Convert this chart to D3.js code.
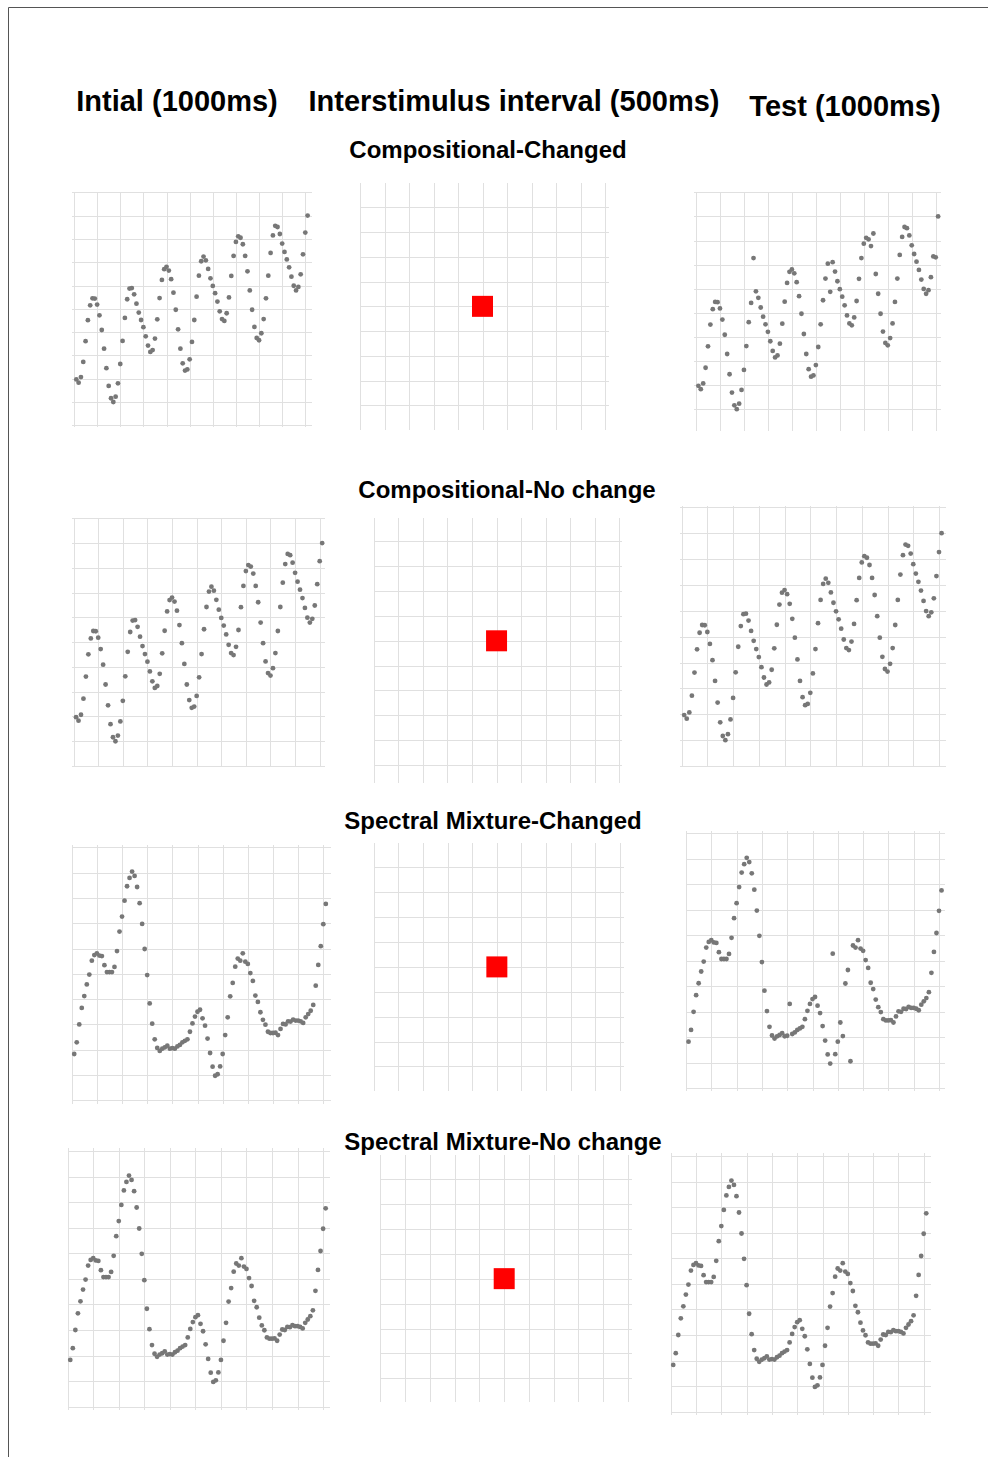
<!DOCTYPE html>
<html>
<head>
<meta charset="utf-8">
<script src="https://cdn.jsdelivr.net/npm/d3@7"></script>
<style>
  html, body { margin: 0; padding: 0; background: #fff; }
  svg { display: block; }
  text { font-family: "Liberation Sans", Arial, sans-serif; font-weight: bold; fill: #000; }
</style>
</head>
<body>
<div id="chart"></div>
<script>
// ---------------- data ----------------
const columnTitles = ["Intial (1000ms)", "Interstimulus interval (500ms)", "Test (1000ms)"];
const conditionTitles = ["Compositional-Changed", "Compositional-No change", "Spectral Mixture-Changed", "Spectral Mixture-No change"];

const xTicks = [0, 10, 20, 30, 40, 50, 60, 70, 80, 90, 100];
const yTicks = [0, 1, 2, 3, 4, 5, 6, 7, 8, 9, 10];

// compositional kernel sample (initial stimulus), x = 1..101
const compositionalInitial = [
  1.97, 1.83, 2.07, 2.72, 3.61, 4.51, 5.15, 5.45, 5.44, 5.18,
  4.72, 4.09, 3.29, 2.45, 1.69, 1.16, 1.00, 1.23, 1.80, 2.63,
  3.62, 4.61, 5.41, 5.87, 5.89, 5.62, 5.22, 4.84, 4.52, 4.21,
  3.82, 3.42, 3.15, 3.23, 3.72, 4.55, 5.46, 6.24, 6.70, 6.80,
  6.64, 6.27, 5.69, 4.96, 4.12, 3.29, 2.66, 2.35, 2.40, 2.83,
  3.58, 4.52, 5.52, 6.42, 7.04, 7.24, 7.08, 6.71, 6.31, 5.98,
  5.67, 5.31, 4.89, 4.56, 4.48, 4.81, 5.49, 6.41, 7.27, 7.87,
  8.11, 8.05, 7.77, 7.27, 6.61, 5.79, 4.96, 4.22, 3.75, 3.65,
  3.95, 4.56, 5.45, 6.42, 7.40, 8.15, 8.56, 8.51, 8.21, 7.80,
  7.44, 7.12, 6.78, 6.38, 5.99, 5.79, 5.94, 6.48, 7.34, 8.27,
  9.00
];
// compositional test with changed points
const compositionalChangedTest = [
  1.97, 1.83, 2.07, 2.72, 3.61, 4.51, 5.15, 5.45, 5.44, 5.18,
  4.72, 4.09, 3.29, 2.45, 1.69, 1.16, 1.00, 1.23, 1.80, 2.63,
  3.62, 4.61, 5.41, 7.27, 5.89, 5.62, 5.22, 4.84, 4.52, 4.21,
  3.82, 3.42, 3.15, 3.23, 3.72, 4.55, 5.46, 6.24, 6.70, 6.80,
  6.64, 6.27, 5.69, 4.96, 4.12, 3.29, 2.66, 2.35, 2.40, 2.83,
  3.58, 4.52, 5.52, 6.42, 7.04, 5.87, 7.10, 6.71, 6.31, 5.98,
  5.67, 5.31, 4.89, 4.56, 4.48, 4.81, 5.49, 6.41, 7.27, 7.87,
  8.11, 8.05, 7.77, 8.29, 6.61, 5.79, 4.96, 4.22, 3.75, 3.65,
  3.95, 4.56, 5.45, 6.42, 7.40, 8.15, 8.56, 8.51, 8.21, 7.80,
  7.44, 7.12, 6.78, 6.38, 5.99, 5.79, 5.94, 6.48, 7.34, 7.30,
  9.00
];
// spectral mixture kernel sample (initial stimulus), x = 1..101
const spectralInitial = [
  1.83, 2.29, 3.00, 3.65, 4.12, 4.58, 4.97, 5.52, 5.74, 5.81,
  5.72, 5.70, 5.34, 5.07, 5.07, 5.07, 5.27, 5.90, 6.67, 7.26,
  7.89, 8.46, 8.79, 9.04, 8.87, 8.43, 7.79, 6.97, 5.98, 4.95,
  3.83, 3.03, 2.41, 2.07, 1.95, 2.04, 2.09, 2.16, 2.04, 2.06,
  2.04, 2.13, 2.19, 2.29, 2.35, 2.41, 2.71, 3.04, 3.31, 3.50,
  3.58, 3.24, 2.95, 2.44, 1.87, 1.33, 0.97, 1.03, 1.34, 1.83,
  2.58, 3.28, 4.11, 4.64, 5.28, 5.60, 5.52, 5.81, 5.48, 5.39,
  5.03, 4.72, 4.14, 3.89, 3.48, 3.18, 2.99, 2.71, 2.66, 2.66,
  2.67, 2.58, 2.82, 3.02, 3.00, 3.12, 3.11, 3.19, 3.15, 3.15,
  3.12, 3.06, 3.28, 3.41, 3.54, 3.77, 4.53, 5.35, 6.09, 6.96,
  7.76
];
// spectral mixture test with changed points
const spectralChangedTest = [
  1.83, 2.29, 3.00, 3.65, 4.12, 4.58, 4.97, 5.52, 5.74, 5.81,
  5.72, 5.70, 5.34, 5.07, 5.07, 5.07, 5.27, 5.90, 6.67, 7.26,
  7.89, 8.46, 8.79, 9.04, 8.87, 8.43, 7.79, 6.97, 5.98, 4.95,
  3.83, 3.03, 2.41, 2.07, 1.95, 2.04, 2.09, 2.16, 2.04, 2.06,
  3.31, 2.13, 2.19, 2.29, 2.35, 2.41, 2.71, 3.04, 3.31, 3.50,
  3.58, 3.24, 2.95, 2.44, 1.87, 1.33, 0.97, 5.28, 1.34, 1.83,
  2.58, 2.05, 4.11, 4.64, 1.06, 5.60, 5.52, 5.81, 5.48, 5.39,
  5.03, 4.72, 4.14, 3.89, 3.48, 3.18, 2.99, 2.71, 2.66, 2.66,
  2.67, 2.58, 2.82, 3.02, 3.00, 3.12, 3.11, 3.19, 3.15, 3.15,
  3.12, 3.06, 3.28, 3.41, 3.54, 3.77, 4.53, 5.35, 6.09, 6.96,
  7.76
];
// fixation marker during the interstimulus interval (grid centre)
const fixationPoint = [50, 5];

// ---------------- layout (pixels) ----------------
const W = 988, H = 1457;
const svg = d3.select("#chart").append("svg").attr("width", W).attr("height", H);

// frame
svg.append("line").attr("x1", 8.5).attr("x2", W).attr("y1", 7.5).attr("y2", 7.5)
  .attr("stroke", "#555").attr("stroke-width", 1);
svg.append("line").attr("x1", 8.5).attr("x2", 8.5).attr("y1", 7.5).attr("y2", H)
  .attr("stroke", "#555").attr("stroke-width", 1);

// column headers
const headerLayout = [
  { x: 177, y: 111 },
  { x: 514, y: 111 },
  { x: 845, y: 116 }
];
columnTitles.forEach((t, i) => {
  svg.append("text").attr("x", headerLayout[i].x).attr("y", headerLayout[i].y)
    .attr("text-anchor", "middle").style("font-size", "29px").text(t);
});

const subtitleLayout = [
  { x: 488, y: 158 },
  { x: 507, y: 498 },
  { x: 493, y: 829 },
  { x: 503, y: 1150 }
];
conditionTitles.forEach((t, i) => {
  svg.append("text").attr("x", subtitleLayout[i].x).attr("y", subtitleLayout[i].y)
    .attr("text-anchor", "middle").style("font-size", "24px").text(t);
});

// panels: pixel frame of each small chart
const panels = [
  // row 1
  { series: compositionalInitial, x0: 74, x1: 305.3, y0: 425.3, y1: 192.3, l: 71.7, r: 311.7, t: 192, b: 427, inner: false },
  { series: null, x0: 360, x1: 605, y0: 430, y1: 182.7, l: 360, r: 609, t: 183, b: 429.5, inner: true },
  { series: compositionalChangedTest, x0: 696, x1: 935.7, y0: 433.3, y1: 192.3, l: 694, r: 941, t: 192, b: 431, inner: false },
  // row 2
  { series: compositionalInitial, x0: 73.6, x1: 319.7, y0: 766, y1: 518.3, l: 71.7, r: 324.7, t: 517.7, b: 767, inner: false },
  { series: null, x0: 373.8, x1: 619.3, y0: 765, y1: 516.6, l: 373.8, r: 621.8, t: 517.7, b: 783.3, inner: true },
  { series: compositionalInitial, x0: 681.6, x1: 939, y0: 766, y1: 507.3, l: 679.7, r: 945.9, t: 506.3, b: 767, inner: false },
  // row 3
  { series: spectralInitial, x0: 71.7, x1: 323.3, y0: 1100.3, y1: 847.3, l: 71.7, r: 330.7, t: 845, b: 1104, inner: false },
  { series: null, x0: 373.7, x1: 620, y0: 1091.3, y1: 842.5, l: 373.7, r: 623.7, t: 843.3, b: 1090.7, inner: true },
  { series: spectralChangedTest, x0: 686, x1: 939, y0: 1088.3, y1: 833.3, l: 686, r: 945, t: 831, b: 1090.7, inner: false },
  // row 4
  { series: spectralInitial, x0: 67.7, x1: 323.1, y0: 1406.7, y1: 1151, l: 67.7, r: 330, t: 1148.3, b: 1410, inner: false },
  { series: null, x0: 380.4, x1: 628, y0: 1403.3, y1: 1154, l: 380.4, r: 631.5, t: 1155, b: 1402.3, inner: true },
  { series: spectralInitial, x0: 670.7, x1: 923.7, y0: 1411.7, y1: 1156, l: 670.7, r: 930.7, t: 1153.3, b: 1415, inner: false }
];

panels.forEach(p => {
  const x = d3.scaleLinear().domain([0, 100]).range([p.x0, p.x1]);
  const y = d3.scaleLinear().domain([0, 10]).range([p.y0, p.y1]);
  const g = svg.append("g");
  const grid = g.append("g").attr("stroke", "#e0e0e0").attr("stroke-width", 1)
    .attr("shape-rendering", "crispEdges");

  const xs = xTicks.filter(v => x(v) >= p.l - 1 && x(v) <= p.r + 1);
  const ys = yTicks.filter(v => p.inner ? (y(v) > p.t + 2 && y(v) < p.b - 2)
                                        : (y(v) >= p.t - 1.5 && y(v) <= p.b + 1.5));
  grid.selectAll("line.v").data(xs).join("line").attr("class", "v")
    .attr("x1", d => Math.round(x(d)) + 0.5).attr("x2", d => Math.round(x(d)) + 0.5)
    .attr("y1", p.t).attr("y2", p.b);
  grid.selectAll("line.h").data(ys).join("line").attr("class", "h")
    .attr("y1", d => Math.round(y(d)) + 0.5).attr("y2", d => Math.round(y(d)) + 0.5)
    .attr("x1", p.l).attr("x2", p.r);

  if (p.series) {
    g.append("g").selectAll("circle").data(p.series).join("circle")
      .attr("cx", (d, i) => x(i + 1))
      .attr("cy", d => y(d))
      .attr("r", 2.4)
      .attr("fill", "#777");
  } else {
    g.append("path")
      .attr("d", d3.symbol().type(d3.symbolSquare).size(441)())
      .attr("transform", `translate(${x(fixationPoint[0])},${y(fixationPoint[1])})`)
      .attr("fill", "#ff0000");
  }
});
</script>
</body>
</html>
